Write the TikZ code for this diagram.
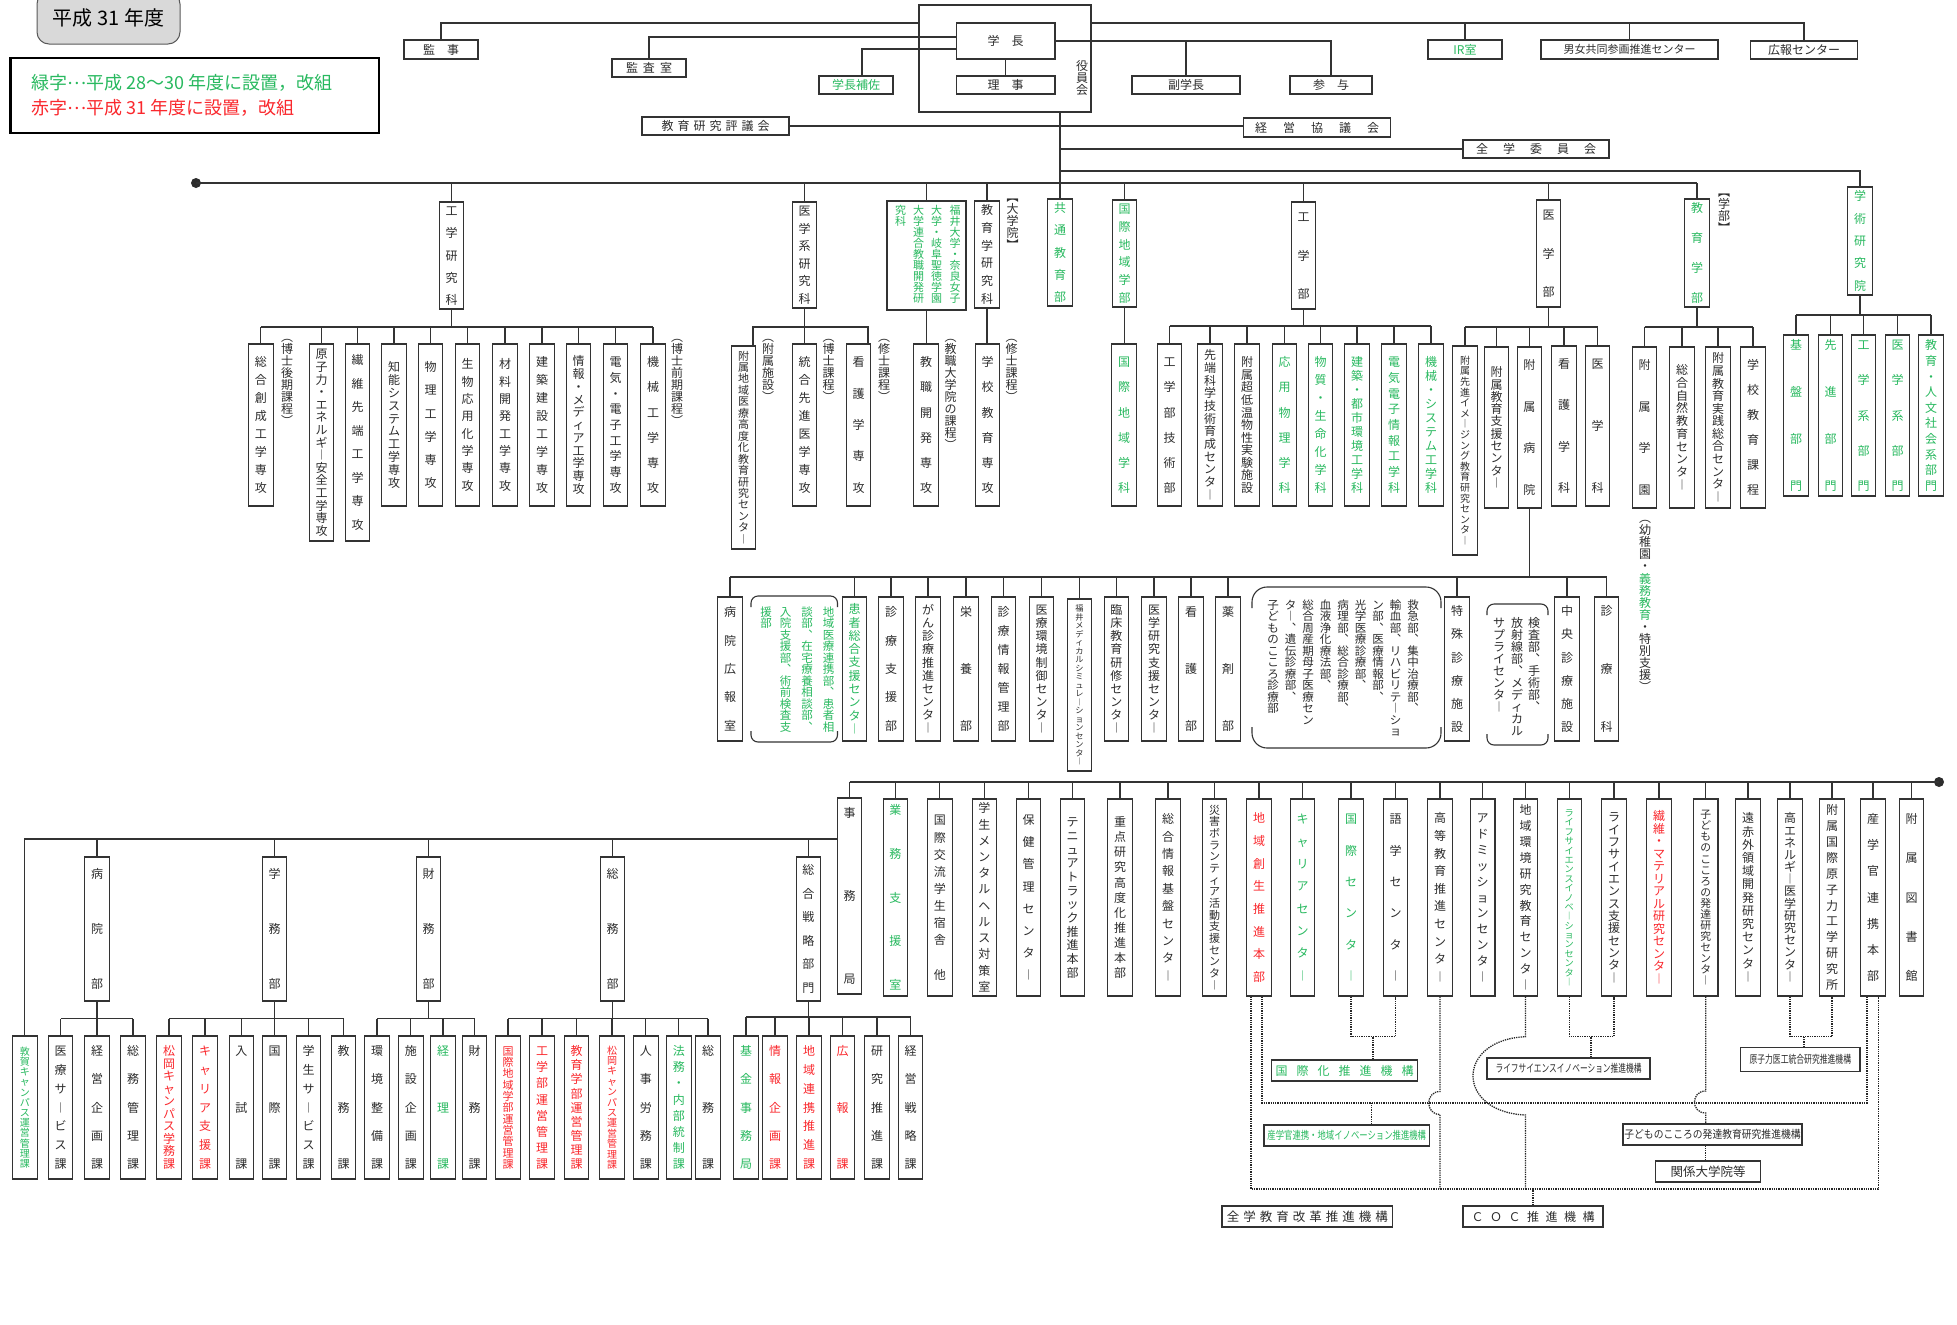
\documentclass[tikz,border=0pt]{standalone}
\usepackage{fontspec}
\setmainfont{Noto Sans CJK JP}
\usepackage{graphicx}
\usetikzlibrary{positioning}
\definecolor{jgreen}{RGB}{40,185,95}
\definecolor{jred}{RGB}{250,40,45}
\definecolor{ink}{RGB}{45,45,45}
\ExplSyntaxOn
\seq_new:N \l_org_items_seq
\tl_new:N \l_org_text_tl
\cs_new_protected:Npn \__org_item:n #1
  {
    \str_case:nnF {#1}
      {
        {︵} { \hbox_to_wd:nn {1em} { \hss \raisebox{0pt}[.38em][.12em]{#1} \hss } }
        {︻} { \hbox_to_wd:nn {1em} { \hss \raisebox{0pt}[.38em][.12em]{#1} \hss } }
        {︶} { \hbox_to_wd:nn {1em} { \hss \raisebox{-.5em}[.38em][.12em]{#1} \hss } }
        {︼} { \hbox_to_wd:nn {1em} { \hss \raisebox{-.5em}[.38em][.12em]{#1} \hss } }
      }
      { \hbox_to_wd:nn {1em} { \hss \vrule height .88em depth .12em width 0pt #1 \hss } }
  }
\NewDocumentCommand \vt { o m }
  {
    \tl_set:Nx \l_org_text_tl {#2}
    \seq_clear:N \l_org_items_seq
    \tl_map_inline:Nn \l_org_text_tl
      { \seq_put_right:Nn \l_org_items_seq { \__org_item:n {##1} } }
    \IfNoValueTF {#1}
      { \vbox:n { \offinterlineskip \seq_use:Nn \l_org_items_seq { } } }
      { \vbox_to_ht:nn { #1 pt } { \offinterlineskip \seq_use:Nn \l_org_items_seq { \vfill } } }
  }
\NewDocumentCommand \hs { O{4pt} m }
  {
    \tl_set:Nx \l_org_text_tl {#2}
    \seq_clear:N \l_org_items_seq
    \tl_map_inline:Nn \l_org_text_tl { \seq_put_right:Nn \l_org_items_seq {##1} }
    \seq_use:Nn \l_org_items_seq { \hspace{#1} }
  }
\ExplSyntaxOff
\NewDocumentCommand\vb{O{} O{11} m m m m m}{%
  \pgfmathsetmacro\vbh{#6-#5}\pgfmathsetmacro\vbt{#6-#5-2*(#2)}%
  \node[ubox,#1,minimum height=\vbh pt] (#3) at (#4,{(#5+#6)/2}) {\vt[\vbt]{#7}};}
\tikzset{
  ubox/.style={draw=black!80, line width=1.1pt, inner sep=0pt, minimum width=24.5pt, text=ink, font=\fontsize{12}{12}\selectfont},
  hbox/.style={draw=black!80, line width=1.1pt, inner sep=0pt, text=ink, font=\fontsize{12}{12}\selectfont},
  fs/.style={font=\fontsize{#1}{#1}\selectfont},
  txtg/.style={text=jgreen},
  vlabel/.style={inner sep=0pt, anchor=north, text=ink, font=\fontsize{12}{12}\selectfont},
  orgline/.style={line width=1.1pt, draw=black!80},
  orgdots/.style={line width=1.3pt, densely dotted, draw=black!85},
  brk/.style={line width=1.1pt, draw=black!80},
}
\begin{document}
\begin{tikzpicture}[x=1pt, y=-1pt]
\useasboundingbox (0,0) rectangle (1957,1325);
\fill[white] (0,0) rectangle (1957,1325);

\node[draw=black!65, fill=black!15, line width=1pt, rounded corners=12pt, minimum width=143, minimum height=52, fs=20, text=black] (nendo) at (108.5,18) {平成 31 年度};
\node[draw=black, line width=2.2pt, minimum width=368.5, minimum height=75, inner sep=0pt] (hanrei) at (194.75,95.5) {};
\node[anchor=west, inner sep=0pt, fs=18, text=jgreen] (hanreig) at (31,83) {緑字\raisebox{.3em}{…}平成 28～30 年度に設置，改組};
\node[anchor=west, inner sep=0pt, fs=18, text=jred] (hanreir) at (31,108) {赤字\raisebox{.3em}{…}平成 31 年度に設置，改組};

\node[hbox, minimum width=74, minimum height=19] (kanji) at (441,49.5) {監　事};
\node[hbox, minimum width=74, minimum height=18] (kansa) at (649,68) {\hs[5pt]{監査室}};
\node[hbox, txtg, minimum width=74, minimum height=18] (hosa) at (856,85) {学長補佐};
\node[hbox, minimum width=172, minimum height=107] (yakuin) at (1005,58.5) {};
\node[hbox, minimum width=98.5, minimum height=36] (gakucho) at (1005.7,41) {学　長};
\node[hbox, minimum width=98.5, minimum height=18] (riji) at (1005.7,85) {理　事};
\node[vlabel] (yakuinl) at (1082,60) {\vt{役員会}};
\node[hbox, minimum width=108, minimum height=18] (fuku) at (1186,85) {副学長};
\node[hbox, minimum width=82, minimum height=18] (sanyo) at (1331,85) {参　与};
\node[hbox, txtg, minimum width=74, minimum height=19] (ir) at (1465,49.5) {IR室};
\node[hbox, fs=11, minimum width=177, minimum height=19] (danjo) at (1629.5,49.5) {男女共同参画推進センター};
\node[hbox, minimum width=107, minimum height=18] (koho) at (1804,50) {広報センター};
\node[hbox, minimum width=147, minimum height=18] (hyogi) at (715.5,126) {\hs[4pt]{教育研究評議会}};
\node[hbox, minimum width=147.5, minimum height=19] (keiei) at (1317,127.5) {\hs[16pt]{経営協議会}};
\node[hbox, minimum width=146, minimum height=18] (iinkai) at (1536,149) {\hs[15pt]{全学委員会}};

\coordinate (ytop) at (0,23);
\draw[orgline] (kanji.north) |- (yakuin.west |- ytop);
\draw[orgline] (yakuin.east |- ytop) -| (koho.north);
\draw[orgline] (ir.north) -- (ir.north |- ytop);
\draw[orgline] (danjo.north) -- (danjo.north |- ytop);
\draw[orgline] ([yshift=4pt]gakucho.west) -| (kansa.north);
\draw[orgline] ([yshift=-8pt]gakucho.west) -| ([xshift=6pt]hosa.north);
\draw[orgline] (gakucho.east) -| (sanyo.north);
\draw[orgline] (fuku.north) -- (fuku.north |- gakucho.east);
\draw[orgline] (gakucho.south) -- (riji.north);

\vb[][4]{kgk}{451.5}{202}{309}{工学研究科}
\vb[][4]{igk}{804.5}{202}{308}{医学系研究科}
\node[ubox, minimum width=79, minimum height=109] (rengo) at (926.5,255.5) {};
\foreach \xx/\tx [count=\i] in {955/福井大学・奈良女子, 936.5/大学・岐阜聖徳学園, 918.5/大学連合教職開発研, 900.5/究科}
  \node[vlabel, fs=11, txtg] (rengo\i) at (\xx,205) {\vt{\tx}};
\vb[][4]{kyk}{987}{201}{308}{教育学研究科}
\vb[txtg][4]{kyotsu}{1060}{199}{306}{共通教育部}
\vb[txtg][4]{kokuchi}{1124.5}{200}{307}{国際地域学部}
\vb[][10]{kogaku}{1303.5}{202}{309}{工学部}
\vb[][10]{igaku}{1548.6}{200}{307}{医学部}
\vb[txtg][4]{kyoiku}{1697}{199}{307}{教育学部}
\vb[txtg][4]{gakujutsu}{1860}{187}{295}{学術研究院}
\node[vlabel] (daigakuin) at (1012.5,197) {\vt{︻大学院︼}};
\node[vlabel] (gakubu) at (1724,192) {\vt{︻学部︼}};

\draw[orgline] (yakuin.south -| kyotsu.north) -- (kyotsu.north);
\draw[orgline] (hyogi.east) -- (hyogi.east -| keiei.west);
\draw[orgline] (kyotsu.north |- iinkai.west) -- (iinkai.west);
\coordinate (y171) at (0,171);
\draw[orgline] (kyotsu.north |- y171) -| (gakujutsu.north);
\node[circle, fill=ink, inner sep=0pt, minimum size=10] (dotL) at (196,183) {};
\draw[orgline] (dotL.center) -- (dotL.center -| kyoiku.north);
\foreach \nm in {kgk,igk,rengo,kyk,kokuchi,kogaku,igaku,kyoiku}
  \draw[orgline] (\nm.north) -- (\nm.north |- dotL);

\foreach \nm/\xx/\pd/\tx in {ks1/260.8/13/総合創成工学専攻, ks4/394/18/知能システム工学専攻, ks5/430.5/18/物理工学専攻, ks6/467.5/15/生物応用化学専攻, ks7/505/15/材料開発工学専攻, ks8/542/13/建築建設工学専攻, ks9/578.5/12/情報・メディア工学専攻, ks10/615.5/13/電気・電子工学専攻, ks11/653/13/機械工学専攻}
  {\vb[][\pd]{\nm}{\xx}{344}{506}{\tx}}
\vb[][5]{ks2}{321.5}{344}{541}{原子力・エネルギ︱安全工学専攻}
\vb[][11]{ks3}{357.5}{344}{541}{繊維先端工学専攻}
\coordinate (bk1) at (0,327);
\draw[orgline] (kgk.south) -- (kgk.south |- bk1);
\draw[orgline] (ks1.north |- bk1) -- (ks11.north |- bk1);
\foreach \nm in {ks1,ks2,ks3,ks4,ks5,ks6,ks7,ks8,ks9,ks10,ks11}
  \draw[orgline] (\nm.north) -- (\nm.north |- bk1);
\node[vlabel] (kouki) at (287,337) {\vt{︵博士後期課程︶}};
\node[vlabel] (zenki) at (677,337) {\vt{︵博士前期課程︶}};

\vb[fs=11][5]{is1}{743.5}{346}{549}{附属地域医療高度化教育研究センタ︱}
\vb[][13]{is2}{804.5}{344}{506}{統合先進医学専攻}
\vb[][13]{is3}{858.5}{344}{506}{看護学専攻}
\coordinate (bi1) at (0,327);
\draw[orgline] (igk.south) -- (igk.south |- bi1);
\draw[orgline] ([xshift=9.5pt]is1.north) |- ([xshift=9.5pt]is3.north |- bi1) -- ([xshift=9.5pt]is3.north);
\draw[orgline] (is2.north) -- (is2.north |- bi1);
\node[vlabel] (fuzokul) at (768,337) {\vt{︵附属施設︶}};
\node[vlabel] (hakasel) at (828.5,337) {\vt{︵博士課程︶}};
\node[vlabel] (shushil) at (884,337) {\vt{︵修士課程︶}};

\vb[][13]{rs1}{926}{344}{506}{教職開発専攻}
\draw[orgline] (rengo.south) -- (rengo.south |- rs1.north);
\node[vlabel] (kyoshokul) at (950.5,337) {\vt{︵教職大学院の課程︶}};
\vb[][13]{ys1}{987.5}{344}{506}{学校教育専攻}
\draw[orgline] (kyk.south) -- (kyk.south |- ys1.north);
\node[vlabel] (shushil2) at (1011.5,337) {\vt{︵修士課程︶}};
\vb[txtg][13]{kc1}{1124}{344}{506}{国際地域学科}
\draw[orgline] (kokuchi.south) -- (kokuchi.south |- kc1.north);

\foreach \nm/\xx/\pd/\cl/\tx in {gb1/1169.5/13/ink/工学部技術部, gb2/1210/6/ink/先端科学技術育成センタ︱, gb3/1247/13/ink/附属超低温物性実験施設, gb4/1284.5/13/jgreen/応用物理学科, gb5/1320.5/13/jgreen/物質・生命化学科, gb6/1357/13/jgreen/建築・都市環境工学科, gb7/1394/13/jgreen/電気電子情報工学科, gb8/1431/13/jgreen/機械・システム工学科}
  {\vb[text=\cl][\pd]{\nm}{\xx}{344}{506}{\tx}}
\coordinate (bg1) at (0,326);
\draw[orgline] (kogaku.south) -- (kogaku.south |- bg1);
\draw[orgline] (gb1.north |- bg1) -- (gb8.north |- bg1);
\foreach \nm in {gb1,gb2,gb3,gb4,gb5,gb6,gb7,gb8}
  \draw[orgline] (\nm.north) -- (\nm.north |- bg1);

\vb[fs=10][10]{mb1}{1465}{346}{555}{附属先進イメ︱ジング教育研究センタ︱}
\vb[][20]{mb2}{1496.5}{347}{508}{附属教育支援センタ︱}
\vb[][13]{mb3}{1529.4}{347}{508}{附属病院}
\vb[][13]{mb4}{1564}{346}{506}{看護学科}
\vb[][13]{mb5}{1597.5}{346}{506}{医学科}
\coordinate (bm1) at (0,327);
\draw[orgline] (igaku.south) -- (igaku.south |- bm1);
\draw[orgline] (mb1.north |- bm1) -- (mb5.north |- bm1);
\foreach \nm in {mb1,mb2,mb3,mb4,mb5}
  \draw[orgline] (\nm.north) -- (\nm.north |- bm1);

\vb[][13]{eb1}{1644.5}{347}{508}{附属学園}
\vb[][18]{eb2}{1682}{347}{508}{総合自然教育センタ︱}
\vb[][6]{eb3}{1718}{347}{508}{附属教育実践総合センタ︱}
\vb[][13]{eb4}{1753}{347}{508}{学校教育課程}
\coordinate (be1) at (0,327);
\draw[orgline] (kyoiku.south) -- (kyoiku.south |- be1);
\draw[orgline] (eb1.north |- be1) -- (eb4.north |- be1);
\foreach \nm in {eb1,eb2,eb3,eb4}
  \draw[orgline] (\nm.north) -- (\nm.north |- be1);
\node[vlabel] (yochi1) at (1645,518) {\vt{︵幼稚園・}};
\node[vlabel, txtg, below=0pt of yochi1] (yochi2) {\vt{義務教育}};
\node[vlabel, below=0pt of yochi2] (yochi3) {\vt{・特別支援︶}};

\foreach \nm/\xx/\tx in {gr1/1796/基盤部門, gr2/1830.5/先進部門, gr3/1863.5/工学系部門, gr4/1897.5/医学系部門, gr5/1931/教育・人文社会系部門}
  {\vb[txtg][5]{\nm}{\xx}{335}{496}{\tx}}
\coordinate (br1) at (0,315);
\draw[orgline] (gakujutsu.south) -- (gakujutsu.south |- br1);
\draw[orgline] (gr1.north |- br1) -- (gr5.north |- br1);
\foreach \nm in {gr1,gr2,gr3,gr4,gr5}
  \draw[orgline] (\nm.north) -- (\nm.north |- br1);

\foreach \nm/\xx/\pd/\cl/\tx in {hp1/730/10/ink/病院広報室, hp2/854.5/7/jgreen/患者総合支援センタ︱, hp3/891/10/ink/診療支援部, hp4/928/8/ink/がん診療推進センタ︱, hp5/966/10/ink/栄養部, hp6/1003.5/10/ink/診療情報管理部, hp7/1041.5/8/ink/医療環境制御センタ︱, hp9/1116.3/8/ink/臨床教育研修センタ︱, hp10/1154/8/ink/医学研究支援センタ︱, hp11/1191/10/ink/看護部, hp12/1228/10/ink/薬剤部, hp13/1457/9/ink/特殊診療施設, hp14/1567/9/ink/中央診療施設, hp15/1606.5/9/ink/診療科}
  {\vb[text=\cl][\pd]{\nm}{\xx}{597}{741}{\tx}}
\vb[fs=8.2][6]{hp8}{1079.5}{599}{771}{福井メディカルシミュレ︱ションセンタ︱}
\coordinate (bh1) at (0,577);
\draw[orgline] (mb3.south) -- (mb3.south |- bh1);
\draw[orgline] (hp1.north |- bh1) -- (hp15.north |- bh1);
\foreach \nm in {hp1,hp2,hp3,hp4,hp5,hp6,hp7,hp8,hp9,hp10,hp11,hp12,hp13,hp14,hp15}
  \draw[orgline] (\nm.north) -- (\nm.north |- bh1);

\draw[brk, rounded corners=7pt] (751,607) -- (751,596) -- (837.5,596) -- (837.5,607);
\draw[brk, rounded corners=7pt] (751,731) -- (751,742) -- (837.5,742) -- (837.5,731);
\foreach \xx/\tx [count=\i] in {828.6/地域医療連携部︑患者相, 807/談部︑在宅療養相談部︑, 785.7/入院支援部︑術前検査支, 766/援部}
  \node[vlabel, fs=11.5, txtg] (hca\i) at (\xx,606) {\vt{\tx}};
\draw[brk, rounded corners=15pt] (1252,608) -- (1252,587) -- (1441,587) -- (1441,608);
\draw[brk, rounded corners=15pt] (1252,727) -- (1252,748) -- (1441,748) -- (1441,727);
\foreach \xx/\tx [count=\i] in {1413/救急部︑集中治療部︑, 1395.5/輸血部︑リハビリテ︱ショ, 1378/ン部︑医療情報部︑, 1360.5/光学医療診療部︑, 1343/病理部︑総合診療部︑, 1325.5/血液浄化療法部︑, 1308/総合周産期母子医療セン, 1290.5/タ︱︑遺伝診療部︑, 1273/子どものこころ診療部}
  \node[vlabel, fs=11.5] (hcb\i) at (\xx,599) {\vt{\tx}};
\draw[brk, rounded corners=7pt] (1487,615) -- (1487,604) -- (1548,604) -- (1548,615);
\draw[brk, rounded corners=7pt] (1487,734) -- (1487,745) -- (1548,745) -- (1548,734);
\foreach \xx/\tx [count=\i] in {1534/検査部︑手術部︑, 1517/放射線部︑メディカル, 1499/サプライセンタ︱}
  \node[vlabel] (hcc\i) at (\xx,617) {\vt{\tx}};

\node[circle, fill=ink, inner sep=0pt, minimum size=10] (dotR) at (1939,782) {};
\vb[][10]{jimu}{849.5}{798}{994}{事務局}
\draw[orgline] (jimu.north |- dotR) -- (dotR.center);
\draw[orgline] (jimu.north) -- (jimu.north |- dotR);
\foreach \nm/\xx/\pd/\fz/\cl/\tx in {ct1/895.3/6/12/jgreen/業務支援室, ct2/939.8/16/12/ink/国際交流学生宿舎{}他, ct3/984.3/4/12/ink/学生メンタルヘルス対策室, ct4/1028.5/16/12/ink/保健管理センタ︱, ct5/1072.5/18/12/ink/テニュアトラック推進本部, ct6/1120/18/12/ink/重点研究高度化推進本部, ct7/1168/15/12/ink/総合情報基盤センタ︱, ct8/1214.5/6/11/ink/災害ボランティア活動支援センタ︱, ct9/1259/14/12/jred/地域創生推進本部, ct10/1302.5/15/12/jgreen/キャリアセンタ︱, ct11/1351/15/12/jgreen/国際センタ︱, ct12/1395.6/15/12/ink/語学センタ︱, ct13/1440/14/12/ink/高等教育推進センタ︱, ct14/1482.7/14/12/ink/アドミッションセンタ︱, ct15/1525.5/6/12/ink/地域環境研究教育センタ︱, ct16/1569.3/10/9.2/jgreen/ライフサイエンスイノベ︱ションセンタ︱, ct17/1614/13/12/ink/ライフサイエンス支援センタ︱, ct18/1659/12/12/jred/繊維・マテリアル研究センタ︱, ct19/1705.7/11/10.8/ink/子どものこころの発達研究センタ︱, ct20/1748/14/12/ink/遠赤外領域開発研究センタ︱, ct21/1790/14/12/ink/高エネルギ︱医学研究センタ︱, ct22/1832/6/12/ink/附属国際原子力工学研究所, ct23/1873/15/12/ink/産学官連携本部, ct24/1911.5/15/12/ink/附属図書館}
  {\vb[text=\cl,fs=\fz][\pd]{\nm}{\xx}{799}{996}{\tx}}
\foreach \nm in {ct1,ct2,ct3,ct4,ct5,ct6,ct7,ct8,ct9,ct10,ct11,ct12,ct13,ct14,ct15,ct16,ct17,ct18,ct19,ct20,ct21,ct22,ct23,ct24}
  \draw[orgline] (\nm.north) -- (\nm.north |- dotR);

\vb[][12]{bd1}{97}{857}{1001}{病院部}
\vb[][12]{bd2}{274.5}{857}{1001}{学務部}
\vb[][12]{bd3}{428.5}{857}{1001}{財務部}
\vb[][12]{bd4}{612.5}{857}{1001}{総務部}
\vb[][8]{bd5}{808.4}{857}{1001}{総合戦略部門}
\vb[txtg,fs=10][11]{tsuruga}{24.8}{1036}{1179}{敦賀キャンパス運営管理課}
\coordinate (bb) at (0,839);
\draw[orgline] (tsuruga.north) |- (jimu.west |- bb);
\foreach \nm in {bd1,bd2,bd3,bd4,bd5}
  \draw[orgline] (\nm.north) -- (\nm.north |- bb);

\foreach \nm/\xx/\fz/\cl/\tx in {bb1/60.5/12/ink/医療サ︱ビス課, bb2/97/12/ink/経営企画課, bb3/133/12/ink/総務管理課, ga1/169/12/jred/松岡キャンパス学務課, ga2/205/12/jred/キャリア支援課, ga3/241.3/12/ink/入試課, ga4/274.5/12/ink/国際課, ga5/308.5/12/ink/学生サ︱ビス課, ga6/343.5/12/ink/教務課, za1/377/12/ink/環境整備課, za2/410.8/12/ink/施設企画課, za3/443/12/jgreen/経理課, za4/474.5/12/ink/財務課, so1/508/11/jred/国際地域学部運営管理課, so2/542/12/jred/工学部運営管理課, so3/576.5/12/jred/教育学部運営管理課, so4/612/10/jred/松岡キャンパス運営管理課, so5/645.8/12/ink/人事労務課, so6/678.8/12/jgreen/法務・内部統制課, so7/708/12/ink/総務課, sn1/746/12/jgreen/基金事務局, sn2/775/12/jred/情報企画課, sn3/809/12/jred/地域連携推進課, sn4/842.5/12/jred/広報課, sn5/877/12/ink/研究推進課, sn6/910.5/12/ink/経営戦略課}
  {\vb[text=\cl,fs=\fz][10]{\nm}{\xx}{1036}{1179}{\tx}}
\coordinate (bs) at (0,1018.5);
\coordinate (bs2) at (0,1017);
\draw[orgline] (bd1.south) -- (bd1.south |- bs);
\draw[orgline] (bb1.north |- bs) -- (bb3.north |- bs);
\draw[orgline] (bd2.south) -- (bd2.south |- bs);
\draw[orgline] (ga1.north |- bs) -- (ga6.north |- bs);
\draw[orgline] (bd3.south) -- (bd3.south |- bs);
\draw[orgline] (za1.north |- bs) -- (za4.north |- bs);
\draw[orgline] (bd4.south) -- (bd4.south |- bs);
\draw[orgline] (so1.north |- bs) -- (so7.north |- bs);
\foreach \nm in {bb1,bb2,bb3,ga1,ga2,ga3,ga4,ga5,ga6,za1,za2,za3,za4,so1,so2,so3,so4,so5,so6,so7}
  \draw[orgline] (\nm.north) -- (\nm.north |- bs);
\draw[orgline] (bd5.south) -- (bd5.south |- bs2);
\draw[orgline] (sn1.north |- bs2) -- (sn6.north |- bs2);
\foreach \nm in {sn1,sn2,sn3,sn4,sn5,sn6}
  \draw[orgline] (\nm.north) -- (\nm.north |- bs2);

\node[hbox, txtg, minimum width=146, minimum height=21] (kokusaika) at (1344.5,1070.5) {\hs[9pt]{国際化推進機構}};
\node[hbox, txtg, fs=11, minimum width=165.5, minimum height=21] (sangakuk) at (1346.75,1135.5) {\scalebox{.76}[1]{産学官連携・地域イノベーション推進機構}};
\node[hbox, fs=11, minimum width=163, minimum height=21] (lskiko) at (1568.5,1068.5) {\scalebox{.7}[1]{ライフサイエンスイノベーション推進機構}};
\node[hbox, fs=11, minimum width=119.4, minimum height=23.3] (ikou) at (1800.3,1059.4) {\scalebox{.71}[1]{原子力医工統合研究推進機構}};
\node[hbox, fs=11, minimum width=179, minimum height=21] (kodomok) at (1712.5,1134.5) {\scalebox{.89}[1]{子どものこころの発達教育研究推進機構}};
\node[hbox, fs=12.5, minimum width=105.5, minimum height=21] (kankei) at (1708,1171.5) {関係大学院等};
\node[hbox, fs=12.5, minimum width=170.5, minimum height=21] (zengaku) at (1307.25,1216.5) {\hs[4pt]{全学教育改革推進機構}};
\node[hbox, minimum width=140, minimum height=21] (coc) at (1533,1216.5) {\hs[6.5pt]{ＣＯＣ推進機構}};

\coordinate (dj) at (0,1036.7);
\coordinate (dA) at (0,1103);
\coordinate (dB) at (0,1189);
\draw[orgdots] (ct11.south) |- (ct12.south |- dj) -- (ct12.south);
\draw[orgdots] ([xshift=28.5pt]kokusaika.north) -- ([xshift=28.5pt]kokusaika.north |- dj);
\draw[orgdots] (ct16.south) |- (ct17.south |- dj) -- (ct17.south);
\draw[orgdots] ([xshift=22.5pt]lskiko.north) -- ([xshift=22.5pt]lskiko.north |- dj);
\draw[orgdots] (ct21.south) |- (ct22.south |- dj) -- (ct22.south);
\draw[orgdots] ([xshift=3.7pt]ikou.north) -- ([xshift=3.7pt]ikou.north |- dj);
\draw[orgdots] ([xshift=3pt]ct9.south) |- ([xshift=-6pt]ct23.south |- dA) -- ([xshift=-6pt]ct23.south);
\draw[orgdots] ([xshift=24.75pt]sangakuk.north) -- ([xshift=24.75pt]sangakuk.north |- dA);
\draw[orgdots] ([xshift=-8pt]ct9.south) |- ([xshift=5.5pt]ct23.south |- dB) -- ([xshift=5.5pt]ct23.south);
\draw[orgdots] (ct13.south) -- ([yshift=11.5pt]ct13.south |- dA) .. controls +(-15,0) and +(-15,0) .. ([yshift=-11.5pt]ct13.south |- dA) -- (ct13.south |- dB);
\draw[orgdots] (ct15.south) -- (ct15.south |- dj) .. controls +(-70,3) and +(-70,-3) .. ([yshift=-12pt]ct15.south |- dA) -- (ct15.south |- dB);
\draw[orgdots] (ct19.south) -- ([yshift=12pt]ct19.south |- dA) .. controls +(-15,0) and +(-15,0) .. ([yshift=-10pt]ct19.south |- dA) -- (ct19.south |- kodomok.north);
\draw[orgdots] (ct19.south |- kodomok.south) -- (ct19.south |- kankei.north);
\draw[orgdots] (coc.north) -- (coc.north |- dB);
\end{tikzpicture}
\end{document}
